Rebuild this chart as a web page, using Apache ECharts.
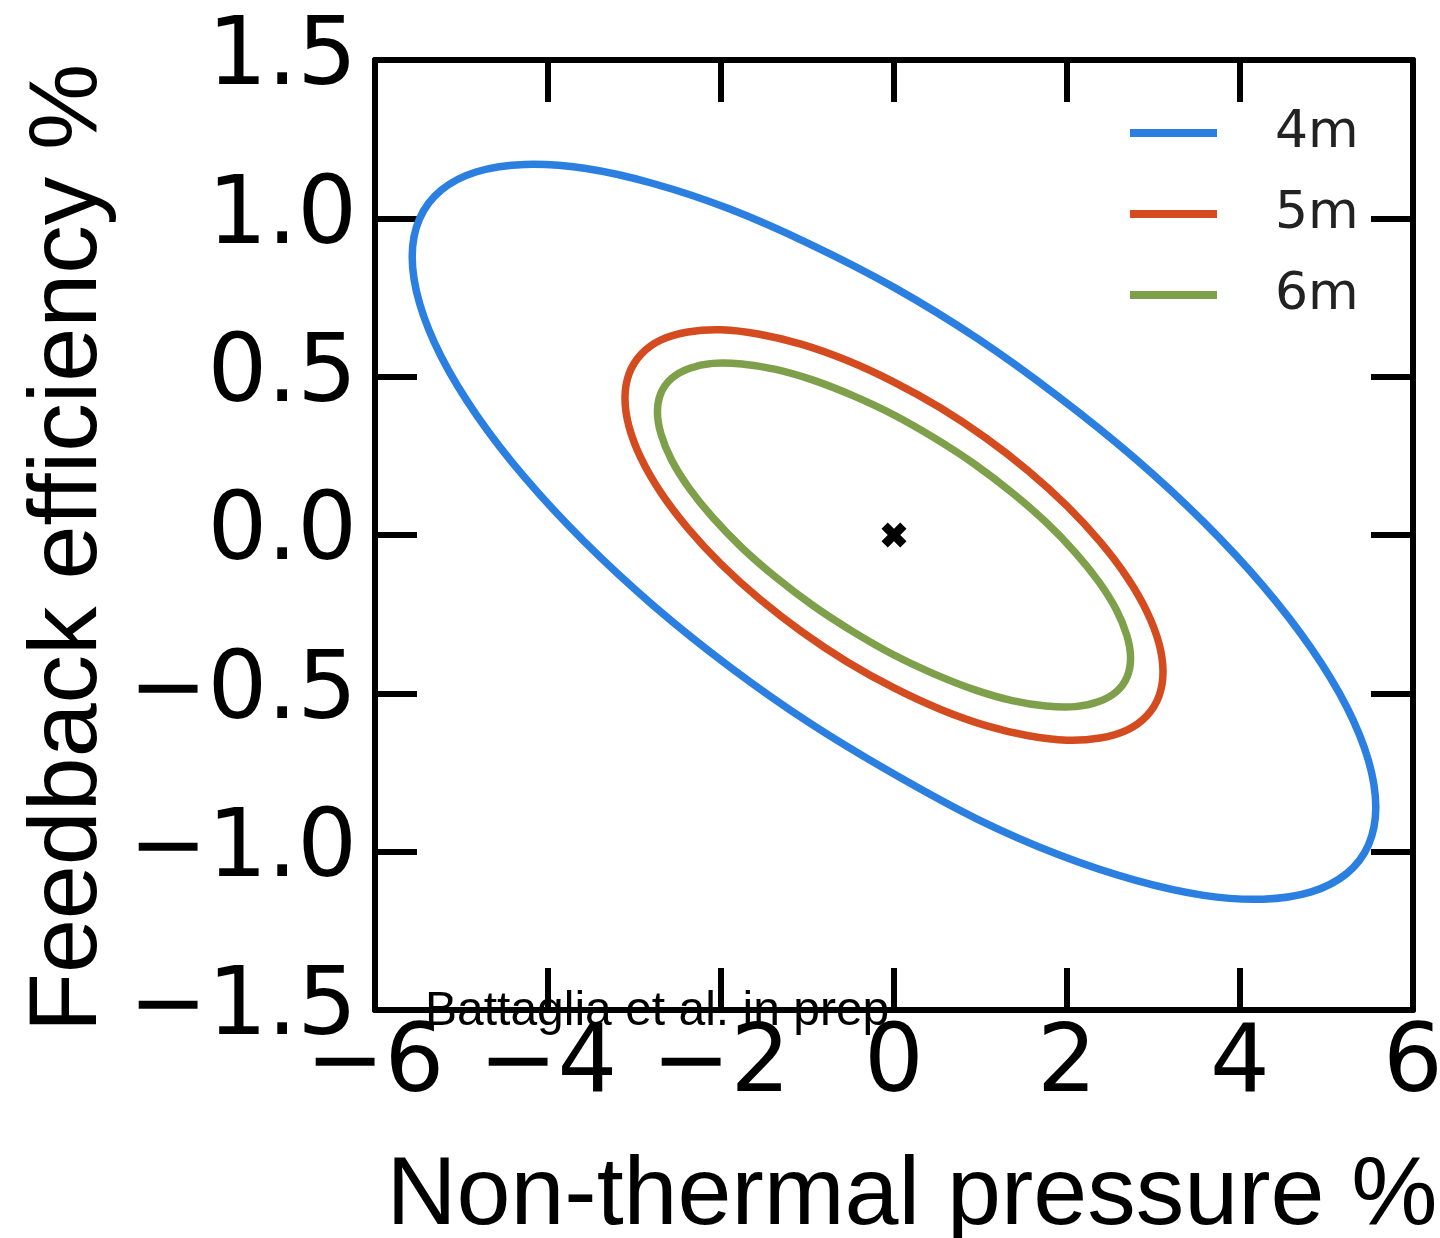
<!DOCTYPE html>
<html>
<head>
<meta charset="utf-8">
<script src="https://cdn.jsdelivr.net/npm/echarts@6/dist/echarts.min.js"></script>
<style>
  html, body { margin: 0; padding: 0; background: #fff; }
  #chart { width: 1440px; height: 1238px; }
</style>
</head>
<body>
<div id="chart"></div>
<script>
// contour labels
var seriesNames = ['4m', '5m', '6m'];
var seriesColors = ['#2a7fe0', '#d34b1e', '#7fa04b'];

// axis ticks
var xTicks = [-6, -4, -2, 0, 2, 4, 6];
var yTicks = [-1.5, -1.0, -0.5, 0.0, 0.5, 1.0, 1.5];

// 4m contour (closed loop)
var pressure4m = [0, -0.967, -1.905, -2.785, -3.580, -4.267, -4.824, -5.234, -5.485, -5.57,
  -5.485, -5.234, -4.824, -4.267, -3.580, -2.785, -1.905, -0.967, 0, 0.967, 1.905, 2.785,
  3.580, 4.267, 4.824, 5.234, 5.485, 5.57, 5.485, 5.234, 4.824, 4.267, 3.580, 2.785, 1.905, 0.967];
var efficiency4m = [-0.755, -0.595, -0.415, -0.222, -0.021, 0.181, 0.378, 0.563, 0.732, 0.879,
  0.999, 1.089, 1.147, 1.170, 1.158, 1.110, 1.030, 0.918, 0.782, 0.620, 0.436, 0.242,
  0.041, -0.161, -0.358, -0.543, -0.712, -0.859, -0.979, -1.069, -1.127, -1.150, -1.138, -1.090, -1.010, -0.898];

// 5m contour
var pressure5m = [0, -0.540, -1.064, -1.555, -1.999, -2.382, -2.693, -2.922, -3.063, -3.11,
  -3.063, -2.922, -2.693, -2.382, -1.999, -1.555, -1.064, -0.540, 0, 0.540, 1.064, 1.555,
  1.999, 2.382, 2.693, 2.922, 3.063, 3.11, 3.063, 2.922, 2.693, 2.382, 1.999, 1.555, 1.064, 0.540];
var efficiency5m = [-0.483, -0.401, -0.306, -0.202, -0.092, 0.021, 0.133, 0.241, 0.342, 0.432,
  0.509, 0.571, 0.616, 0.641, 0.648, 0.634, 0.602, 0.551, 0.483, 0.401, 0.306, 0.202,
  0.092, -0.021, -0.133, -0.241, -0.342, -0.432, -0.509, -0.571, -0.616, -0.641, -0.648, -0.634, -0.602, -0.551];

// 6m contour
var pressure6m = [0, -0.475, -0.935, -1.368, -1.758, -2.095, -2.369, -2.570, -2.693, -2.735,
  -2.693, -2.570, -2.369, -2.095, -1.758, -1.368, -0.935, -0.475, 0, 0.475, 0.935, 1.368,
  1.758, 2.095, 2.369, 2.570, 2.693, 2.735, 2.693, 2.570, 2.369, 2.095, 1.758, 1.368, 0.935, 0.475];
var efficiency6m = [-0.379, -0.305, -0.223, -0.133, -0.040, 0.055, 0.148, 0.236, 0.318, 0.389,
  0.449, 0.495, 0.526, 0.542, 0.540, 0.523, 0.489, 0.440, 0.379, 0.305, 0.223, 0.133,
  0.040, -0.055, -0.148, -0.236, -0.318, -0.389, -0.449, -0.495, -0.526, -0.542, -0.540, -0.523, -0.489, -0.440];

// fiducial point
var fiducial = [[0, 0]];

function pairs(xs, ys) {
  return xs.map(function (x, i) { return [x, ys[i]]; });
}
function minus(s) { return s.replace('-', '\u2212'); }

// closed smooth contour, points placed by the chart's axes
function contourSeries(idx, xs, ys) {
  var pts = pairs(xs, ys);
  return {
    name: seriesNames[idx], type: 'custom', coordinateSystem: 'cartesian2d',
    data: pts, color: seriesColors[idx],
    renderItem: function (params, api) {
      if (params.dataIndex !== 0) return null;
      var px = pts.map(function (p) { return api.coord(p); });
      return {
        type: 'polygon',
        shape: { points: px, smooth: 0.35 },
        style: { fill: 'none', stroke: seriesColors[idx], lineWidth: 7.5 }
      };
    }
  };
}

var chartDom = document.getElementById('chart');
var myChart = echarts.init(chartDom);

var tickStyle = { show: true, inside: true, length: 42, lineStyle: { color: '#000', width: 6 } };
var lineAxis = { show: true, onZero: false, lineStyle: { color: '#000', width: 6 } };

var option = {
  animation: false,
  grid: { left: 375, right: 27, top: 60, bottom: 228, containLabel: false, outerBoundsMode: 'none' },
  legend: {
    data: seriesNames.map(function (n, i) { return { name: n, itemStyle: { color: seriesColors[i] } }; }),
    orient: 'vertical',
    left: 1130,
    top: 107,
    padding: 0,
    icon: 'rect',
    itemWidth: 87,
    itemHeight: 8,
    itemGap: 29,
    textStyle: { fontSize: 52, fontFamily: 'DejaVu Sans', color: '#222', padding: [0, 0, 0, 53] }
  },
  xAxis: [{
    type: 'value', min: -6, max: 6, interval: 2, position: 'bottom',
    axisLine: lineAxis, axisTick: tickStyle, splitLine: { show: false },
    axisLabel: {
      margin: 10, fontSize: 94, fontFamily: 'DejaVu Sans', color: '#000',
      formatter: function (v) { return minus(String(v)); }
    },
    name: 'Non-thermal pressure %', nameLocation: 'middle', nameGap: 139,
    nameTextStyle: { fontSize: 97, fontFamily: 'Liberation Sans', color: '#000', padding: [0, 0, 0, 36] }
  }, {
    type: 'value', min: -6, max: 6, interval: 2, position: 'top',
    axisLine: lineAxis, axisTick: tickStyle, splitLine: { show: false },
    axisLabel: { show: false }
  }],
  yAxis: [{
    type: 'value', min: -1.5, max: 1.5, interval: 0.5, position: 'left',
    axisLine: lineAxis, axisTick: tickStyle, splitLine: { show: false },
    axisLabel: {
      margin: 18, fontSize: 94, fontFamily: 'DejaVu Sans', color: '#000',
      padding: [0, 0, 16, 0],
      formatter: function (v) { return minus(v.toFixed(1)); }
    },
    name: 'Feedback efficiency %', nameLocation: 'middle', nameGap: 254,
    nameTextStyle: { fontSize: 97, fontFamily: 'Liberation Sans', color: '#000', padding: [0, 26, 0, 0] }
  }, {
    type: 'value', min: -1.5, max: 1.5, interval: 0.5, position: 'right',
    axisLine: lineAxis, axisTick: tickStyle, splitLine: { show: false },
    axisLabel: { show: false }
  }],
  graphic: [{
    type: 'text', left: 425, top: 988, z: 100,
    style: { text: 'Battaglia et al. in prep', font: '48px "Liberation Sans"', fill: '#000' }
  }],
  series: [
    contourSeries(0, pressure4m, efficiency4m),
    contourSeries(1, pressure5m, efficiency5m),
    contourSeries(2, pressure6m, efficiency6m),
    {
      name: 'fiducial', type: 'scatter', data: fiducial, z: 5,
      symbol: 'path://M2.5,0 L5,2.5 L7.5,0 L10,2.5 L7.5,5 L10,7.5 L7.5,10 L5,7.5 L2.5,10 L0,7.5 L2.5,5 L0,2.5 Z',
      symbolSize: 25, itemStyle: { color: '#000', opacity: 1 }
    }
  ]
};
myChart.setOption(option);
</script>
</body>
</html>
